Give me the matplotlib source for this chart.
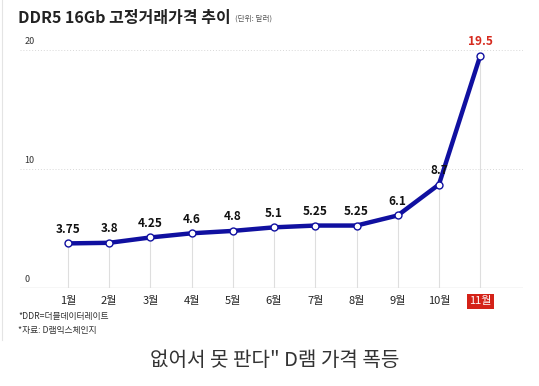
import matplotlib
matplotlib.use("Agg")
import matplotlib.pyplot as plt
from matplotlib.lines import Line2D

plt.rcParams['font.family'] = ['Noto Sans CJK KR', 'DejaVu Sans']

months = ['1월', '2월', '3월', '4월', '5월', '6월', '7월', '8월', '9월', '10월', '11월']
prices = [3.75, 3.8, 4.25, 4.6, 4.8, 5.1, 5.25, 5.25, 6.1, 8.7, 19.5]
labels = ['3.75', '3.8', '4.25', '4.6', '4.8', '5.1', '5.25', '5.25', '6.1', '8.7', '19.5']
yticks = [0, 10, 20]

W, H = 539, 386
fig = plt.figure(figsize=(W / 100, H / 100), dpi=100)
fig.patch.set_facecolor('white')

# axes placed in pixel terms
ax = fig.add_axes([20 / W, (H - 288) / H, 503 / W, 248 / H])
ax.set_xlim(-0.165, 12.04)
ax.set_ylim(0, 20.85)
for s in ax.spines.values():
    s.set_visible(False)
ax.set_xticks([])
ax.set_yticks([])

x = list(range(1, len(months) + 1))

# grid
for t in yticks:
    if t == 0:
        ax.axhline(t, color='#b8b8b8', lw=0.9, zorder=1)
    else:
        ax.axhline(t, color='#d8d8d8', lw=0.7, ls=(0, (1, 2)), zorder=1)
    ax.text(-0.06, t + 0.35, str(t), fontsize=6.5, color='#333333', ha='left', va='bottom')

for xi, p in zip(x, prices):
    ax.plot([xi, xi], [0, p], color='#dedede', lw=0.8, zorder=1)

ax.plot(x, prices, color='#1010a0', lw=3.2, zorder=3, solid_capstyle='round')
ax.plot(x, prices, ls='none', marker='o', ms=5, mfc='white', mec='#1010a0', mew=1.0, zorder=4)

for xi, p, lab in zip(x, prices, labels):
    c = '#d62a1e' if xi == len(x) else '#111111'
    ax.text(xi, p + 0.65, lab, ha='center', va='bottom', fontsize=8.5, fontweight='bold', color=c)

for xi, m in zip(x, months):
    if xi == len(x):
        ax.text(xi, -0.7, m, ha='center', va='top', fontsize=8, color='white',
                bbox=dict(boxstyle='square,pad=0.2', fc='#d42218', ec='none'))
    else:
        ax.text(xi, -0.7, m, ha='center', va='top', fontsize=8, color='#222222')

# title and notes
title = fig.text(18 / W, 1 - 18 / H, 'DDR5 16Gb 고정거래가격 추이', fontsize=11.5, fontweight='bold',
                 color='#222222', ha='left', va='center')
fig.canvas.draw()
fig.text(0, 0, '(단위: 달러)', fontsize=5.5, color='#555555', ha='left', va='center',
         transform=fig.transFigure)
unit = fig.texts[-1]
bb = title.get_window_extent()
unit.set_position(((bb.x1 + 4) / W, (bb.y0 + bb.y1) / 2 / H - 1 / H))

fig.text(18 / W, 1 - 317 / H, '*DDR=더블데이터레이트', fontsize=6.3, color='#333333', ha='left', va='center')
fig.text(18 / W, 1 - 331 / H, '*자료: D램익스체인지', fontsize=6.3, color='#333333', ha='left', va='center')
fig.text(275 / W, 1 - 360 / H, '없어서 못 판다" D램 가격 폭등', fontsize=14.5, color='#333333',
         ha='center', va='center')

fig.add_artist(Line2D([1.5 / W, 1.5 / W], [1 - 340 / H, 1], color='#e4e4e4', lw=0.8))

fig.savefig('out.png', dpi=100)
